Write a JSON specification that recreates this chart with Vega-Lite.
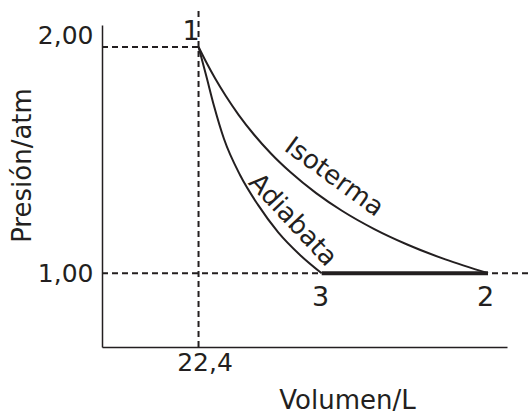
{
  "$schema": "https://vega.github.io/schema/vega-lite/v6.json",
  "width": 405,
  "height": 322,
  "autosize": {"type": "none"},
  "padding": {"left": 102, "top": 25, "right": 22, "bottom": 66},
  "background": "white",
  "config": {
    "view": {"stroke": null},
    "font": "DejaVu Sans",
    "axis": {
      "grid": false,
      "ticks": false,
      "tickSize": 0,
      "domainColor": "#231f20",
      "domainWidth": 1.5,
      "labelFont": "DejaVu Sans",
      "labelFontSize": 25,
      "labelColor": "#231f20",
      "titleFont": "DejaVu Sans",
      "titleFontSize": 26,
      "titleFontWeight": "normal",
      "titleColor": "#231f20"
    }
  },
  "layer": [
    {
      "data": {
        "values": [
          {"v1": 22.4, "v2": 22.4, "p1": 0.674, "p2": 2.1635},
          {"v1": 14.93, "v2": 22.4, "p1": 2.0, "p2": 2.0},
          {"v1": 14.93, "v2": 47.97, "p1": 1.0, "p2": 1.0}
        ]
      },
      "mark": {"type": "rule", "strokeDash": [6, 4], "strokeWidth": 2, "color": "#231f20", "clip": false},
      "encoding": {
        "x": {
          "field": "v1",
          "type": "quantitative",
          "scale": {"domain": [14.93, 46.27], "nice": false, "zero": false},
          "axis": {
            "values": [22.4],
            "labelExpr": "replace(format(datum.value, '.1f'), '.', ',')",
            "labelPadding": 3,
            "labelOffset": 6,
            "title": "Volumen/L",
            "titleX": 245,
            "titleY": 61,
            "titleAlign": "center",
            "titleBaseline": "alphabetic"
          }
        },
        "x2": {"field": "v2"},
        "y": {
          "field": "p1",
          "type": "quantitative",
          "scale": {"domain": [0.674, 2.097], "nice": false, "zero": false},
          "axis": {
            "values": [1, 2],
            "labelExpr": "replace(format(datum.value, '.2f'), '.', ',')",
            "labelPadding": 9,
            "labelBaseline": "middle",
            "labelOffset": {"condition": {"test": "datum.value == 2", "value": -11}, "value": 0},
            "title": "Presión/atm",
            "titleAngle": -90,
            "titleX": -72,
            "titleY": 140,
            "titleAlign": "center",
            "titleBaseline": "alphabetic"
          }
        },
        "y2": {"field": "p2"}
      }
    },
    {
      "data": {
        "values": [
          {"curve": "Isoterma", "V": 22.4, "P": 2.0},
          {"curve": "Isoterma", "V": 23.0, "P": 1.932},
          {"curve": "Isoterma", "V": 23.7, "P": 1.859},
          {"curve": "Isoterma", "V": 24.5, "P": 1.784},
          {"curve": "Isoterma", "V": 25.5, "P": 1.7},
          {"curve": "Isoterma", "V": 26.7, "P": 1.612},
          {"curve": "Isoterma", "V": 28.0, "P": 1.529},
          {"curve": "Isoterma", "V": 29.5, "P": 1.447},
          {"curve": "Isoterma", "V": 31.5, "P": 1.354},
          {"curve": "Isoterma", "V": 33.5, "P": 1.276},
          {"curve": "Isoterma", "V": 36.0, "P": 1.195},
          {"curve": "Isoterma", "V": 38.5, "P": 1.128},
          {"curve": "Isoterma", "V": 41.5, "P": 1.061},
          {"curve": "Isoterma", "V": 44.8, "P": 1.0},
          {"curve": "Adiabata", "V": 22.4, "P": 2.0},
          {"curve": "Adiabata", "V": 22.98, "P": 1.876},
          {"curve": "Adiabata", "V": 23.599, "P": 1.739},
          {"curve": "Adiabata", "V": 24.373, "P": 1.593},
          {"curve": "Adiabata", "V": 25.611, "P": 1.434},
          {"curve": "Adiabata", "V": 27.004, "P": 1.302},
          {"curve": "Adiabata", "V": 28.551, "P": 1.182},
          {"curve": "Adiabata", "V": 30.254, "P": 1.081},
          {"curve": "Adiabata", "V": 31.93, "P": 1.0}
        ]
      },
      "mark": {"type": "line", "interpolate": "monotone", "strokeWidth": 2, "color": "#231f20", "clip": false},
      "encoding": {
        "x": {"field": "V", "type": "quantitative"},
        "y": {"field": "P", "type": "quantitative"},
        "detail": {"field": "curve"}
      }
    },
    {
      "data": {"values": [{"va": 31.93, "vb": 44.8, "p": 1.0}]},
      "mark": {"type": "rule", "strokeWidth": 4, "color": "#231f20"},
      "encoding": {
        "x": {"field": "va", "type": "quantitative"},
        "x2": {"field": "vb"},
        "y": {"field": "p", "type": "quantitative"}
      }
    },
    {
      "data": {
        "values": [
          {"t": "1", "V": 21.82, "P": 2.031},
          {"t": "3", "V": 31.84, "P": 0.8555},
          {"t": "2", "V": 44.61, "P": 0.8555}
        ]
      },
      "mark": {"type": "text", "fontSize": 27, "align": "center", "baseline": "alphabetic", "color": "#231f20"},
      "encoding": {
        "x": {"field": "V", "type": "quantitative"},
        "y": {"field": "P", "type": "quantitative"},
        "text": {"field": "t"}
      }
    },
    {
      "data": {"values": [{"t": "Isoterma", "V": 32.9, "P": 1.425}]},
      "mark": {"type": "text", "fontSize": 26, "angle": 36, "align": "center", "baseline": "middle", "color": "#231f20"},
      "encoding": {
        "x": {"field": "V", "type": "quantitative"},
        "y": {"field": "P", "type": "quantitative"},
        "text": {"field": "t"}
      }
    },
    {
      "data": {"values": [{"t": "Adiabata", "V": 29.7, "P": 1.235}]},
      "mark": {"type": "text", "fontSize": 26, "angle": 47, "align": "center", "baseline": "middle", "color": "#231f20"},
      "encoding": {
        "x": {"field": "V", "type": "quantitative"},
        "y": {"field": "P", "type": "quantitative"},
        "text": {"field": "t"}
      }
    }
  ]
}
